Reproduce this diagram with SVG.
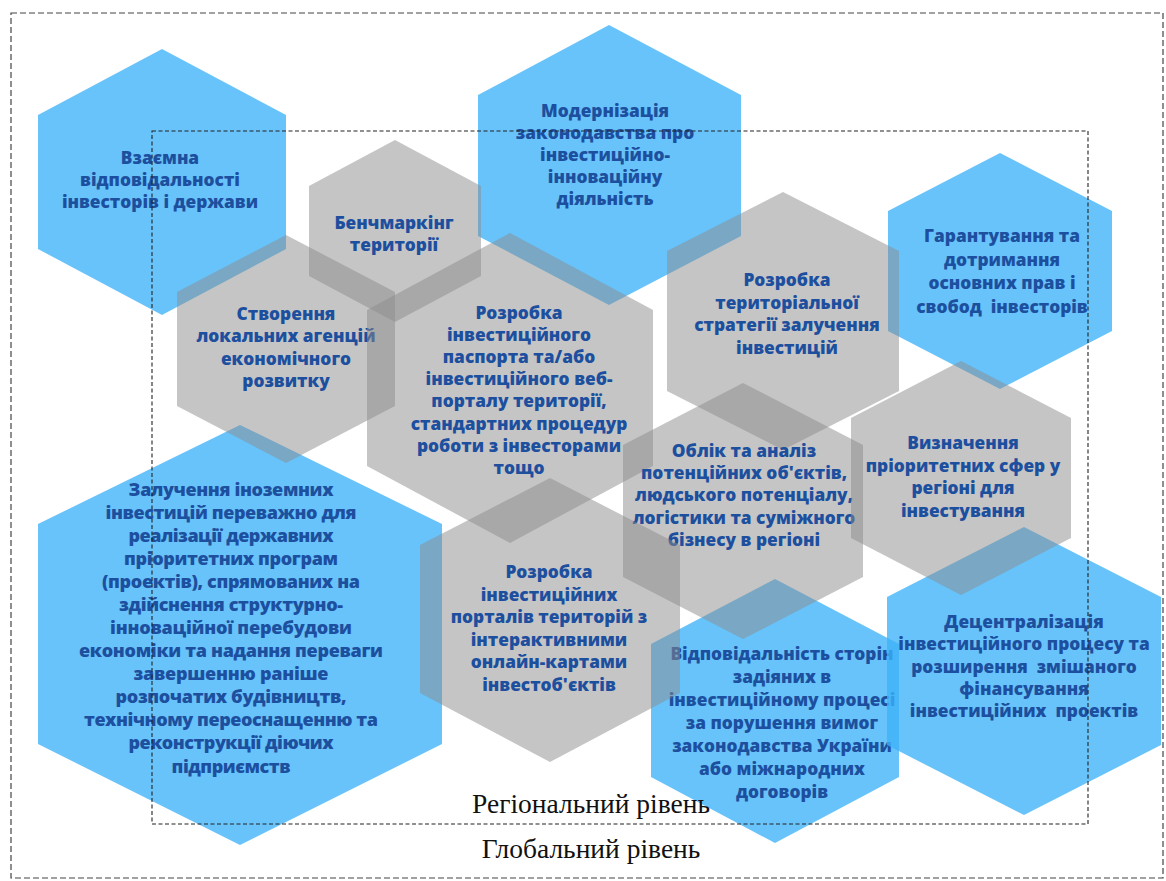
<svg xmlns="http://www.w3.org/2000/svg" width="1166" height="881" viewBox="0 0 1166 881">
<style>
.bg{fill:#ffffff}
.blue{fill:#3db2f9;fill-opacity:0.78}
.gray{fill:#8c8c8c;fill-opacity:0.5}
.t{font-family:"Open Sans","DejaVu Sans",sans-serif;font-weight:800;font-size:17.3px;fill:#1d4f9f;text-anchor:middle;white-space:pre}
.tz{font-size:18px}
.lbl{font-family:"Liberation Serif","Times New Roman",serif;font-size:27.5px;fill:#111;text-anchor:middle}
.outer{fill:none;stroke:#444;stroke-width:1.2;stroke-dasharray:6 3}
.inner{fill:none;stroke:#222;stroke-width:1.1;stroke-dasharray:4 2.5}
</style>
<rect class="bg" x="0" y="0" width="1166" height="881"/>

<g id="n-vzaiemna">
<polygon class="blue" points="162,49 286,115 286,249 162,315 38,249 38,115"/>
<text class="t" x="160" y="164"><tspan x="160">Взаємна</tspan><tspan x="160" dy="22">відповідальності</tspan><tspan x="160" dy="22">інвесторів і держави</tspan></text>
</g>
<g id="n-modernizatsiia">
<polygon class="blue" points="609,25 741,95 741,236 609,305 478,236 478,95"/>
<text class="t" x="605" y="117"><tspan x="605">Модернізація</tspan><tspan x="605" dy="22">законодавства про</tspan><tspan x="605" dy="22">інвестиційно-</tspan><tspan x="605" dy="22">інноваційну</tspan><tspan x="605" dy="22">діяльність</tspan></text>
</g>
<g id="n-harantuvannia">
<polygon class="blue" points="1000,153 1112,211 1112,331 1000,389 888,331 888,211"/>
<text class="t" x="1002" y="242"><tspan x="1002">Гарантування та</tspan><tspan x="1002" dy="23.5">дотримання</tspan><tspan x="1002" dy="23.5">основних прав і</tspan><tspan x="1002" dy="23.5">свобод  інвесторів</tspan></text>
</g>
<g id="n-zaluchennia">
<polygon class="blue" points="240,425 442,524 442,744 240,845 38,744 38,524"/>
<text class="t tz" x="231" y="496" textLength="205">Залучення іноземних</text>
<text class="t tz" x="231" y="519" textLength="251">інвестицій переважно для</text>
<text class="t tz" x="231" y="542" textLength="205">реалізації державних</text>
<text class="t tz" x="231" y="565" textLength="214">пріоритетних програм</text>
<text class="t tz" x="231" y="588" textLength="258">(проектів), спрямованих на</text>
<text class="t tz" x="231" y="611" textLength="224">здійснення структурно-</text>
<text class="t tz" x="231" y="634" textLength="242">інноваційної перебудови</text>
<text class="t tz" x="231" y="657" textLength="304">економіки та надання переваги</text>
<text class="t tz" x="231" y="680" textLength="195">завершенню раніше</text>
<text class="t tz" x="231" y="703" textLength="231">розпочатих будівництв,</text>
<text class="t tz" x="231" y="726" textLength="294">технічному переоснащенню та</text>
<text class="t tz" x="231" y="749" textLength="205">реконструкції діючих</text>
<text class="t tz" x="231" y="773" textLength="119">підприємств</text>
</g>
<g id="n-vidpovidalnist">
<polygon class="blue" points="775,579 899,644 899,777 775,843 651,777 651,644"/>
<text class="t" x="782" y="660"><tspan x="782">Відповідальність сторін</tspan><tspan x="782" dy="23">задіяних в</tspan><tspan x="782" dy="23">інвестиційному процесі</tspan><tspan x="782" dy="23">за порушення вимог</tspan><tspan x="782" dy="23">законодавства України</tspan><tspan x="782" dy="23">або міжнародних</tspan><tspan x="782" dy="23">договорів</tspan></text>
</g>
<g id="n-detsentralizatsiia">
<polygon class="blue" points="1024,527 1161,597 1161,745 1024,815 887,745 887,597"/>
<text class="t" x="1024" y="628"><tspan x="1024">Децентралізація</tspan><tspan x="1024" dy="22.3">інвестиційного процесу та</tspan><tspan x="1024" dy="22.3">розширення  змішаного</tspan><tspan x="1024" dy="22.3">фінансування</tspan><tspan x="1024" dy="22.3">інвестиційних  проектів</tspan></text>
</g>

<g id="n-benchmarkinh">
<polygon class="gray" points="395,140 481,186 481,276 395,322 309,276 309,186"/>
<text class="t" x="394" y="229"><tspan x="394">Бенчмаркінг</tspan><tspan x="394" dy="22">території</tspan></text>
</g>
<g id="n-stvorennia">
<polygon class="gray" points="286,235 395,292 395,406 286,463 177,406 177,292"/>
<text class="t" x="286" y="320"><tspan x="286">Створення</tspan><tspan x="286" dy="22.3">локальних агенцій</tspan><tspan x="286" dy="22.3">економічного</tspan><tspan x="286" dy="22.3">розвитку</tspan></text>
</g>
<g id="n-pasport">
<polygon class="gray" points="510,233 653,310 653,466 510,543 367,466 367,310"/>
<text class="t" x="519" y="319"><tspan x="519">Розробка</tspan><tspan x="519" dy="22.1">інвестиційного</tspan><tspan x="519" dy="22.1">паспорта та/або</tspan><tspan x="519" dy="22.1">інвестиційного веб-</tspan><tspan x="519" dy="22.1">порталу території,</tspan><tspan x="519" dy="22.1">стандартних процедур</tspan><tspan x="519" dy="22.1">роботи з інвесторами</tspan><tspan x="519" dy="22.1">тощо</tspan></text>
</g>
<g id="n-stratehiia">
<polygon class="gray" points="783,192 899,251 899,391 783,450 667,391 667,251"/>
<text class="t" x="787" y="286"><tspan x="787">Розробка</tspan><tspan x="787" dy="22.5">територіальної</tspan><tspan x="787" dy="22.5">стратегії залучення</tspan><tspan x="787" dy="22.5">інвестицій</tspan></text>
</g>
<g id="n-oblik">
<polygon class="gray" points="743,383 863,445 863,577 743,639 623,577 623,445"/>
<text class="t" x="744" y="457"><tspan x="744">Облік та аналіз</tspan><tspan x="744" dy="22.2">потенційних об'єктів,</tspan><tspan x="744" dy="22.2">людського потенціалу,</tspan><tspan x="744" dy="22.2">логістики та суміжного</tspan><tspan x="744" dy="22.2">бізнесу в регіоні</tspan></text>
</g>
<g id="n-vyznachennia">
<polygon class="gray" points="961,361 1071,418 1071,538 961,595 851,538 851,418"/>
<text class="t" x="963" y="449"><tspan x="963">Визначення</tspan><tspan x="963" dy="22.5">пріоритетних сфер у</tspan><tspan x="963" dy="22.5">регіоні для</tspan><tspan x="963" dy="22.5">інвестування</tspan></text>
</g>
<g id="n-portaly">
<polygon class="gray" points="550,478 680,545 680,693 550,762 420,693 420,545"/>
<text class="t" x="549" y="578"><tspan x="549">Розробка</tspan><tspan x="549" dy="22.5">інвестиційних</tspan><tspan x="549" dy="22.5">порталів територій з</tspan><tspan x="549" dy="22.5">інтерактивними</tspan><tspan x="549" dy="22.5">онлайн-картами</tspan><tspan x="549" dy="22.5">інвестоб'єктів</tspan></text>
</g>

<g id="levels">
<rect class="outer" x="11" y="13" width="1152" height="865"/>
<rect class="inner" x="152" y="131" width="936" height="693"/>
<text class="lbl" x="591" y="813">Регіональний рівень</text>
<text class="lbl" x="591" y="858">Глобальний рівень</text>
</g>
<g id="connectors"/>
</svg>
